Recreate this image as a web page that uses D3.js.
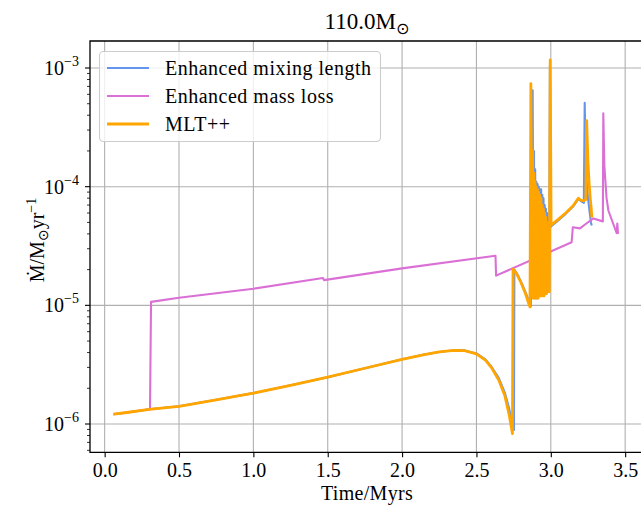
<!DOCTYPE html>
<html lang="en">
<head>
  <meta charset="UTF-8" />
  <title>110.0 Msun mass loss</title>
  <script src="https://d3js.org/d3.v7.min.js"></script>
  <style>
    body {
      background-color: white;
      margin: 0;
      font-family: "Liberation Serif", serif;
    }

    svg {
      display: block;
    }

    .grid line {
      stroke: #b0b0b0;
      stroke-width: 1.1px;
    }

    .series {
      fill: none;
      stroke-linejoin: round;
    }

    text {
      fill: #000;
    }
  </style>
</head>
<body>
  <svg></svg>

  <script>
    // values
    const seriesNames = ["Enhanced mixing length", "Enhanced mass loss", "MLT++"];
    const seriesColors = ["#6495ed", "#da70d6", "#ffa500"];

    const mixTime = [0.06, 0.15, 0.3, 0.5, 0.75, 1.0, 1.25, 1.5, 1.75, 2.0, 2.15, 2.25, 2.35, 2.42, 2.5, 2.56,
      2.6, 2.65, 2.69, 2.72, 2.745, 2.752, 2.755, 2.78, 2.81, 2.84, 2.855, 2.866,
      2.878, 2.883, 2.887, 2.891, 2.895, 2.899, 2.903, 2.907, 2.911, 2.915, 2.919, 2.923, 2.927, 2.931,
      2.935, 2.939, 2.943, 2.947, 2.951, 2.955, 2.959, 2.963, 2.967, 2.971, 2.975, 2.979, 2.985, 2.989,
      2.994, 3.0, 3.05, 3.1, 3.15, 3.185, 3.2, 3.222, 3.228, 3.236, 3.25, 3.262, 3.27, 3.275];
    const mixRate = [1.21e-6, 1.25e-6, 1.33e-6, 1.41e-6, 1.6e-6, 1.82e-6, 2.12e-6, 2.48e-6, 2.95e-6, 3.51e-6, 3.85e-6, 4.05e-6, 4.19e-6, 4.17e-6, 3.93e-6, 3.5e-6,
      3.05e-6, 2.45e-6, 1.85e-6, 1.35e-6, 9.5e-7, 8.9e-7, 2.0e-5, 1.78e-5, 1.48e-5, 1.2e-5, 1.05e-5, 9.8e-6,
      6.5e-4, 1.15e-5, 2.0e-4, 1.15e-5, 1.4e-4, 1.15e-5, 1.1e-4, 1.15e-5, 1.05e-4, 1.15e-5, 1.0e-4, 1.2e-5, 9.5e-5, 1.2e-5,
      9.5e-5, 1.2e-5, 8.5e-5, 1.2e-5, 8.0e-5, 1.2e-5, 7.0e-5, 1.25e-5, 6.5e-5, 1.25e-5, 6.0e-5, 1.3e-5, 5.5e-5, 1.3e-5,
      1.05e-3, 4.6e-5, 5.2e-5, 5.9e-5, 6.8e-5, 7.9e-5, 7.6e-5, 7.3e-5, 5.1e-4, 1.3e-4, 8.0e-5, 6.0e-5, 5.0e-5, 4.7e-5];

    const lossTime = [0.06, 0.15, 0.305, 0.312, 0.5, 1.0, 1.468, 1.475, 2.0, 2.628, 2.632, 3.14, 3.148, 3.196, 3.23,
      3.286, 3.35, 3.353, 3.36, 3.375, 3.387, 3.443, 3.447, 3.452];
    const lossRate = [1.21e-6, 1.25e-6, 1.33e-6, 1.07e-5, 1.16e-5, 1.38e-5, 1.70e-5, 1.63e-5, 2.05e-5, 2.62e-5, 1.78e-5, 3.4e-5, 4.55e-5, 4.45e-5, 4.8e-5,
      5.4e-5, 5.1e-5, 4.15e-4, 1.5e-4, 8.0e-5, 6.3e-5, 4.05e-5, 4.9e-5, 4.0e-5];

    const mltTime = [0.06, 0.15, 0.3, 0.5, 0.75, 1.0, 1.25, 1.5, 1.75, 2.0, 2.15, 2.25, 2.35, 2.42, 2.5, 2.56,
      2.6, 2.65, 2.69, 2.72, 2.742, 2.746, 2.77, 2.8, 2.83, 2.85, 2.86,
      2.866, 2.874, 2.878, 2.882, 2.886, 2.89, 2.894, 2.898, 2.902, 2.906, 2.91, 2.914, 2.918, 2.922, 2.926, 2.93,
      2.934, 2.938, 2.942, 2.946, 2.95, 2.954, 2.958, 2.962, 2.966, 2.97, 2.974, 2.978, 2.984, 2.99,
      2.996, 3.002, 3.05, 3.1, 3.15, 3.185, 3.2, 3.22, 3.235, 3.241, 3.25, 3.258, 3.265, 3.272, 3.276];
    const mltRate = [1.21e-6, 1.25e-6, 1.33e-6, 1.41e-6, 1.6e-6, 1.82e-6, 2.12e-6, 2.48e-6, 2.95e-6, 3.51e-6, 3.85e-6, 4.05e-6, 4.18e-6, 4.15e-6, 3.9e-6, 3.45e-6,
      3.0e-6, 2.35e-6, 1.75e-6, 1.2e-6, 8.3e-7, 2.02e-5, 1.85e-5, 1.55e-5, 1.25e-5, 1.05e-5, 9.7e-6,
      7.4e-4, 1.2e-5, 2.0e-4, 1.15e-5, 1.3e-4, 1.15e-5, 1.1e-4, 1.15e-5, 1.0e-4, 1.15e-5, 9.5e-5, 1.15e-5, 9.0e-5, 1.2e-5, 8.5e-5, 1.2e-5,
      8.0e-5, 1.2e-5, 7.0e-5, 1.2e-5, 6.5e-5, 1.2e-5, 6.0e-5, 1.25e-5, 5.5e-5, 1.25e-5, 5.0e-5, 1.3e-5, 5.0e-5, 1.3e-5,
      1.17e-3, 4.75e-5, 5.3e-5, 6.0e-5, 6.9e-5, 8.0e-5, 7.7e-5, 7.6e-5, 7.8e-5, 3.6e-4, 1.6e-4, 1.05e-4, 8.0e-5, 6.5e-5, 5.5e-5];

    const xTicks = [0.0, 0.5, 1.0, 1.5, 2.0, 2.5, 3.0, 3.5];
    const yTicks = [1e-6, 1e-5, 1e-4, 1e-3];
    const yTickExp = ["\u22126", "\u22125", "\u22124", "\u22123"];

    const width = 641;
    const height = 506;
    const plotLeft = 90, plotRight = 644.5, plotTop = 41, plotBottom = 452.3;

    const svg = d3.select("svg")
      .attr("width", width)
      .attr("height", height);

    const x = d3.scaleLinear().domain([-0.0985, 3.630]).range([plotLeft, plotRight]);
    const y = d3.scaleLog().domain([5.775e-7, 1.689e-3]).range([plotBottom, plotTop]);

    svg.append("defs").append("clipPath").attr("id", "plot")
      .append("rect")
      .attr("x", plotLeft).attr("y", plotTop)
      .attr("width", plotRight - plotLeft).attr("height", plotBottom - plotTop);

    // grid
    const grid = svg.append("g").attr("class", "grid");
    grid.selectAll(".gx").data(xTicks).enter().append("line")
      .attr("x1", d => x(d)).attr("x2", d => x(d))
      .attr("y1", plotTop).attr("y2", plotBottom);
    grid.selectAll(".gy").data(yTicks).enter().append("line")
      .attr("x1", plotLeft).attr("x2", plotRight)
      .attr("y1", d => y(d)).attr("y2", d => y(d));

    // series
    const line = d3.line().x(d => x(d[0])).y(d => y(d[1]));
    const series = [
      { t: mixTime, v: mixRate, w: 2.1 },
      { t: lossTime, v: lossRate, w: 2.1 },
      { t: mltTime, v: mltRate, w: 2.8 }
    ];
    const plot = svg.append("g").attr("clip-path", "url(#plot)");
    series.forEach((s, i) => {
      plot.append("path")
        .attr("class", "series")
        .attr("d", line(d3.zip(s.t, s.v)))
        .attr("stroke", seriesColors[i])
        .attr("stroke-width", s.w);
    });

    // x axis
    const xAxis = svg.append("g")
      .attr("transform", `translate(0,${plotBottom})`)
      .call(d3.axisBottom(x).tickValues(xTicks).tickSize(5).tickPadding(6)
        .tickFormat(d3.format(".1f")));
    xAxis.select(".domain").remove();
    xAxis.selectAll("line").attr("stroke-width", 1.1);
    xAxis.selectAll("text")
      .attr("font-family", "Liberation Serif, serif")
      .attr("font-size", 20)
      .attr("dy", "0.71em");

    // y axis: major + minor ticks
    const minor = [];
    for (let e = -7; e <= -3; e++) {
      for (let m = 2; m <= 9; m++) {
        const v = m * Math.pow(10, e);
        if (v >= y.domain()[0] && v <= y.domain()[1]) minor.push(v);
      }
    }
    const yAxis = svg.append("g").attr("transform", `translate(${plotLeft},0)`);
    yAxis.selectAll(".minor").data(minor).enter().append("line")
      .attr("x1", -3).attr("x2", 0)
      .attr("y1", d => y(d)).attr("y2", d => y(d))
      .attr("stroke", "#000").attr("stroke-width", 0.8);
    yAxis.selectAll(".major").data(yTicks).enter().append("line")
      .attr("x1", -5).attr("x2", 0)
      .attr("y1", d => y(d)).attr("y2", d => y(d))
      .attr("stroke", "#000").attr("stroke-width", 1.1);
    const yLab = yAxis.selectAll(".lab").data(yTicks).enter().append("text")
      .attr("x", -11)
      .attr("y", d => y(d) + 7)
      .attr("text-anchor", "end")
      .attr("font-size", 20);
    yLab.append("tspan").text("10");
    yLab.append("tspan")
      .attr("dy", -9)
      .attr("font-size", 14)
      .text((d, i) => yTickExp[i]);

    // spines
    svg.append("path")
      .attr("d", `M${plotRight},${plotTop}H${plotLeft}V${plotBottom}H${plotRight}`)
      .attr("fill", "none")
      .attr("stroke", "#000")
      .attr("stroke-width", 1.3);

    // title and labels
    const title = svg.append("text")
      .attr("x", 367).attr("y", 29)
      .attr("text-anchor", "middle")
      .attr("font-size", 23);
    title.append("tspan").text("110.0M");
    title.append("tspan").attr("dy", 5).attr("font-size", 16)
      .attr("font-family", "DejaVu Sans").text("\u2299");

    svg.append("text")
      .attr("x", 367).attr("y", 500)
      .attr("text-anchor", "middle")
      .attr("font-size", 20)
      .attr("letter-spacing", 0.3)
      .text("Time/Myrs");

    const ylabel = svg.append("text")
      .attr("transform", "translate(44,240) rotate(-90)")
      .attr("text-anchor", "middle")
      .attr("font-size", 20);
    ylabel.append("tspan").text("\u1E40/M");
    ylabel.append("tspan").attr("dy", 4).attr("font-size", 14)
      .attr("font-family", "DejaVu Sans").text("\u2299");
    ylabel.append("tspan").attr("dy", -4).text("yr");
    ylabel.append("tspan").attr("dy", -8).attr("font-size", 14).text("\u22121");

    // legend
    const legend = svg.append("g");
    legend.append("rect")
      .attr("x", 99.5).attr("y", 51.5)
      .attr("width", 281).attr("height", 90)
      .attr("rx", 4)
      .attr("fill", "#fff").attr("fill-opacity", 0.8)
      .attr("stroke", "#cccccc").attr("stroke-width", 1.1);
    const rows = legend.selectAll(".row").data(seriesNames).enter().append("g")
      .attr("transform", (d, i) => `translate(0,${68 + i * 28})`);
    rows.append("line")
      .attr("x1", 107).attr("x2", 149)
      .attr("stroke", (d, i) => seriesColors[i])
      .attr("stroke-width", (d, i) => series[i].w);
    rows.append("text")
      .attr("x", 165).attr("y", 7)
      .attr("font-size", 20)
      .attr("letter-spacing", 0.5)
      .text(d => d);
  </script>
</body>
</html>
